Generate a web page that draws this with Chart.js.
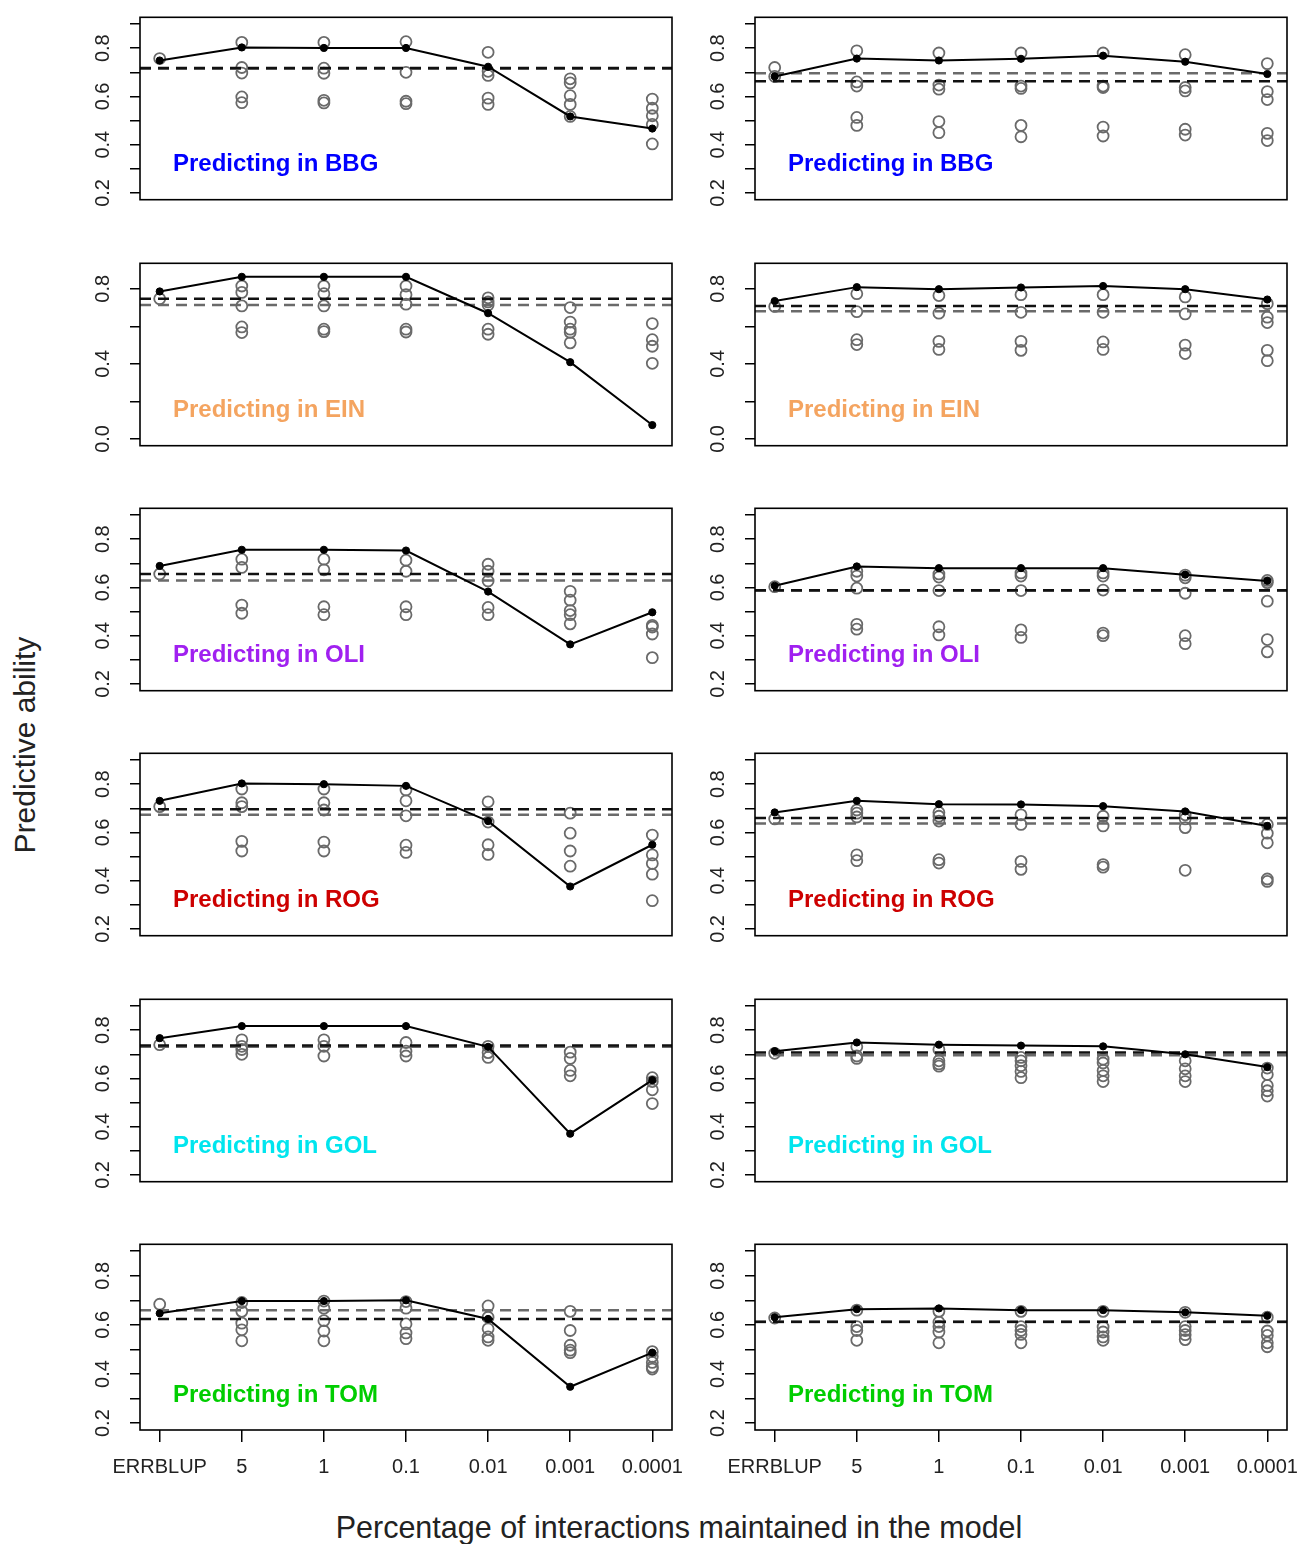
<!DOCTYPE html>
<html>
<head>
<meta charset="utf-8">
<script src="https://cdn.jsdelivr.net/npm/chart.js@4.4.0/dist/chart.umd.min.js"></script>
<style>
  body { margin: 0; background: #fff; width: 1299px; height: 1544px; position: relative; overflow: hidden;
         font-family: 'Liberation Sans', Arial, sans-serif; }
  canvas { position: absolute; }
  .ytitle { position: absolute; left: 25px; top: 745px; transform: translate(-50%, -50%) rotate(-90deg);
            font-size: 30px; color: #222; white-space: nowrap; }
  .xtitle { position: absolute; left: 679px; top: 1527px; transform: translate(-50%, -50%);
            font-size: 30.5px; color: #222; white-space: nowrap; }
</style>
</head>
<body>
<div class="ytitle">Predictive ability</div>
<div class="xtitle">Percentage of interactions maintained in the model</div>
<script>
const xLabels = ['ERRBLUP', '5', '1', '0.1', '0.01', '0.001', '0.0001'];
const populations = ['BBG', 'EIN', 'OLI', 'ROG', 'GOL', 'TOM'];
const popColors = ['#0000FF', '#F4A460', '#A020F0', '#CD0000', '#00E5EE', '#00CD00'];

const yLimNormal = [0.2, 0.9];
const yTicksNormal = [0.2, 0.3, 0.4, 0.5, 0.6, 0.7, 0.8, 0.9];
const yLabelsNormal = [0.2, 0.4, 0.6, 0.8];
const yLimEIN = [0, 0.9];
const yTicksEIN = [0, 0.2, 0.4, 0.6, 0.8];
const yLabelsEIN = [0, 0.4, 0.8];

// left column (A) and right column (B); refs = [black dashed, grey dashed]
const bbgMeanA = [0.749, 0.803, 0.801, 0.801, 0.723, 0.517, 0.467];
const bbgRefA = [0.718, 0.715];
const bbgOthersA = [
    [0.757],
    [0.824, 0.72, 0.697, 0.598, 0.574],
    [0.824, 0.717, 0.696, 0.584, 0.573],
    [0.827, 0.70, 0.58, 0.57],
    [0.783, 0.704, 0.687, 0.593, 0.567],
    [0.673, 0.656, 0.603, 0.567, 0.517],
    [0.589, 0.551, 0.52, 0.484, 0.403]
];
const bbgMeanB = [0.683, 0.757, 0.749, 0.756, 0.769, 0.744, 0.693];
const bbgRefB = [0.663, 0.696];
const bbgOthersB = [
    [0.72, 0.683],
    [0.789, 0.66, 0.643, 0.513, 0.48],
    [0.78, 0.647, 0.63, 0.496, 0.45],
    [0.78, 0.643, 0.633, 0.48, 0.433],
    [0.78, 0.643, 0.637, 0.473, 0.436],
    [0.773, 0.637, 0.623, 0.464, 0.44],
    [0.736, 0.62, 0.587, 0.447, 0.417]
];

const einMeanA = [0.786, 0.864, 0.864, 0.864, 0.67, 0.409, 0.074];
const einRefA = [0.747, 0.714];
const einOthersA = [
    [0.747],
    [0.815, 0.781, 0.709, 0.597, 0.567],
    [0.815, 0.774, 0.709, 0.585, 0.572],
    [0.815, 0.769, 0.718, 0.585, 0.57],
    [0.752, 0.73, 0.714, 0.585, 0.558],
    [0.70, 0.623, 0.585, 0.568, 0.512],
    [0.615, 0.529, 0.494, 0.403]
];
const einMeanB = [0.735, 0.809, 0.798, 0.807, 0.815, 0.798, 0.743];
const einRefB = [0.709, 0.68];
const einOthersB = [
    [0.706],
    [0.774, 0.678, 0.529, 0.503],
    [0.764, 0.67, 0.52, 0.477],
    [0.769, 0.675, 0.52, 0.472],
    [0.769, 0.675, 0.517, 0.477],
    [0.757, 0.666, 0.50, 0.455],
    [0.721, 0.649, 0.62, 0.472, 0.417]
];

const oliMeanA = [0.689, 0.756, 0.756, 0.753, 0.583, 0.364, 0.497];
const oliRefA = [0.656, 0.629];
const oliOthersA = [
    [0.656],
    [0.717, 0.683, 0.527, 0.493],
    [0.717, 0.673, 0.52, 0.487],
    [0.713, 0.667, 0.52, 0.487],
    [0.696, 0.667, 0.627, 0.517, 0.487],
    [0.584, 0.547, 0.504, 0.487, 0.449],
    [0.443, 0.436, 0.407, 0.309]
];
const oliMeanB = [0.607, 0.687, 0.68, 0.68, 0.68, 0.653, 0.627];
const oliRefB = [0.588, 0.586];
const oliOthersB = [
    [0.603],
    [0.667, 0.647, 0.597, 0.447, 0.427],
    [0.656, 0.643, 0.587, 0.437, 0.403],
    [0.66, 0.647, 0.587, 0.424, 0.393],
    [0.66, 0.647, 0.589, 0.411, 0.40],
    [0.651, 0.64, 0.576, 0.40, 0.367],
    [0.629, 0.62, 0.543, 0.384, 0.333]
];

const rogMeanA = [0.731, 0.803, 0.80, 0.793, 0.647, 0.376, 0.549];
const rogRefA = [0.696, 0.673];
const rogOthersA = [
    [0.707],
    [0.78, 0.723, 0.707, 0.563, 0.523],
    [0.78, 0.723, 0.693, 0.56, 0.523],
    [0.776, 0.731, 0.669, 0.547, 0.517],
    [0.727, 0.643, 0.549, 0.509],
    [0.68, 0.597, 0.523, 0.46],
    [0.589, 0.507, 0.471, 0.427, 0.317]
];
const rogMeanB = [0.683, 0.731, 0.717, 0.716, 0.709, 0.687, 0.627];
const rogRefB = [0.66, 0.637];
const rogOthersB = [
    [0.656],
    [0.693, 0.68, 0.664, 0.507, 0.483],
    [0.683, 0.667, 0.647, 0.487, 0.473],
    [0.673, 0.633, 0.48, 0.447],
    [0.667, 0.627, 0.467, 0.456],
    [0.673, 0.656, 0.62, 0.443],
    [0.633, 0.597, 0.557, 0.407, 0.397]
];

const golMeanA = [0.767, 0.817, 0.817, 0.817, 0.731, 0.371, 0.593];
const golRefA = [0.737, 0.731];
const golOthersA = [
    [0.74],
    [0.76, 0.733, 0.72, 0.70],
    [0.76, 0.733, 0.693],
    [0.749, 0.713, 0.693],
    [0.733, 0.707, 0.687],
    [0.709, 0.683, 0.633, 0.611],
    [0.603, 0.587, 0.553, 0.496]
];
const golMeanB = [0.713, 0.749, 0.74, 0.736, 0.733, 0.70, 0.647];
const golRefB = [0.707, 0.696];
const golOthersB = [
    [0.704],
    [0.731, 0.693, 0.683],
    [0.72, 0.673, 0.66, 0.651],
    [0.687, 0.673, 0.653, 0.629, 0.603],
    [0.68, 0.664, 0.633, 0.611, 0.587],
    [0.673, 0.64, 0.611, 0.587],
    [0.643, 0.616, 0.571, 0.549, 0.527]
];

const tomMeanA = [0.647, 0.697, 0.697, 0.70, 0.624, 0.348, 0.487];
const tomRefA = [0.624, 0.66];
const tomOthersA = [
    [0.684],
    [0.691, 0.655, 0.607, 0.58, 0.535],
    [0.697, 0.668, 0.617, 0.575, 0.535],
    [0.695, 0.668, 0.604, 0.567, 0.544],
    [0.677, 0.631, 0.584, 0.551, 0.537],
    [0.655, 0.577, 0.517, 0.497, 0.487],
    [0.491, 0.471, 0.447, 0.428, 0.42]
];
const tomMeanB = [0.631, 0.664, 0.667, 0.66, 0.66, 0.651, 0.637];
const tomRefB = [0.613, 0.612];
const tomOthersB = [
    [0.628],
    [0.66, 0.593, 0.577, 0.537],
    [0.655, 0.611, 0.593, 0.571, 0.527],
    [0.655, 0.593, 0.577, 0.561, 0.527],
    [0.655, 0.591, 0.571, 0.551, 0.537],
    [0.651, 0.593, 0.577, 0.56, 0.54],
    [0.631, 0.575, 0.557, 0.527, 0.511]
];

const panelRows = [
    [[bbgMeanA, bbgOthersA, bbgRefA], [bbgMeanB, bbgOthersB, bbgRefB]],
    [[einMeanA, einOthersA, einRefA], [einMeanB, einOthersB, einRefB]],
    [[oliMeanA, oliOthersA, oliRefA], [oliMeanB, oliOthersB, oliRefB]],
    [[rogMeanA, rogOthersA, rogRefA], [rogMeanB, rogOthersB, rogRefB]],
    [[golMeanA, golOthersA, golRefA], [golMeanB, golOthersB, golRefB]],
    [[tomMeanA, tomOthersA, tomRefA], [tomMeanB, tomOthersB, tomRefB]]
];

const colLeft = [140, 755];
const rowTop = [14, 260, 505, 750, 996, 1241];
const boxW = 532, boxH = 189;
const padR = 24;
const family = "'Liberation Sans', Arial, sans-serif";
const grey = '#6a6a6a';

// R-style 4% axis extension
const extend = (lim) => { const d = (lim[1] - lim[0]) * 0.04; return [lim[0] - d, lim[1] + d]; };
const xLim = extend([0, xLabels.length - 1]);

const framePlugin = {
    id: 'frame',
    afterDatasetsDraw(chart, args, opts) {
        const { ctx, chartArea: a } = chart;
        ctx.save();
        ctx.strokeStyle = '#000';
        ctx.lineWidth = 1.6;
        ctx.strokeRect(a.left, a.top, a.right - a.left, a.bottom - a.top);
        ctx.font = `bold 24px ${family}`;
        ctx.fillStyle = opts.color;
        ctx.textBaseline = 'middle';
        ctx.fillText(opts.text, a.left + 33, a.bottom - 35);
        ctx.restore();
    }
};

function noPad(s) {
    s.paddingTop = 0;
    s.paddingBottom = 0;
    s.paddingLeft = 0;
    s.paddingRight = 0;
}

function makePanel(row, col, mean, others, refs) {
    const ein = populations[row] === 'EIN';
    const yLim = extend(ein ? yLimEIN : yLimNormal);
    const yTicks = ein ? yTicksEIN : yTicksNormal;
    const yLabeled = ein ? yLabelsEIN : yLabelsNormal;
    const bottom = row === rowTop.length - 1;
    const xAxisH = bottom ? 52 : 0;

    const w = 60 + boxW + padR;
    const h = 4 + boxH + xAxisH + 4;
    const canvas = document.createElement('canvas');
    canvas.width = w;
    canvas.height = h;
    canvas.style.left = (colLeft[col] - 60) + 'px';
    canvas.style.top = (rowTop[row] - 4) + 'px';
    canvas.style.width = w + 'px';
    canvas.style.height = h + 'px';
    document.body.appendChild(canvas);

    const hline = (v) => [{ x: xLim[0], y: v }, { x: xLim[1], y: v }];
    const tickGrid = (len) => ({
        display: true, drawOnChartArea: false, drawTicks: true,
        tickLength: len, color: '#000', lineWidth: 1.5
    });

    new Chart(canvas.getContext('2d'), {
        type: 'scatter',
        data: {
            datasets: [
                {
                    data: mean.map((v, i) => ({ x: i, y: v })),
                    showLine: true,
                    borderColor: '#000',
                    borderWidth: 2,
                    pointRadius: 3.6,
                    pointBackgroundColor: '#000',
                    pointBorderColor: '#000',
                    pointBorderWidth: 1
                },
                {
                    data: hline(refs[0]),
                    showLine: true,
                    borderColor: '#111',
                    borderWidth: 2.5,
                    borderDash: [11, 7],
                    pointRadius: 0
                },
                {
                    data: hline(refs[1]),
                    showLine: true,
                    borderColor: grey,
                    borderWidth: 2.5,
                    borderDash: [11, 7],
                    pointRadius: 0
                },
                {
                    data: others.flatMap((vals, i) => vals.map((v) => ({ x: i, y: v }))),
                    showLine: false,
                    pointRadius: 5.5,
                    pointBorderWidth: 1.8,
                    pointBorderColor: grey,
                    pointBackgroundColor: 'rgba(0,0,0,0)'
                }
            ]
        },
        options: {
            responsive: false,
            animation: false,
            devicePixelRatio: 1,
            layout: { padding: { left: 5, top: 4, right: padR, bottom: 4 } },
            plugins: {
                legend: { display: false },
                tooltip: { enabled: false },
                frame: { text: 'Predicting in ' + populations[row], color: popColors[row] }
            },
            scales: {
                x: {
                    type: 'linear',
                    display: bottom,
                    min: xLim[0],
                    max: xLim[1],
                    afterBuildTicks: (s) => { s.ticks = xLabels.map((_, i) => ({ value: i })); },
                    afterFit: (s) => { s.height = xAxisH; noPad(s); },
                    grid: tickGrid(12),
                    border: { display: false },
                    ticks: {
                        autoSkip: false, minRotation: 0, maxRotation: 0, padding: 13,
                        color: '#222', font: { size: 20, family },
                        callback: (v) => xLabels[v]
                    }
                },
                y: {
                    type: 'linear',
                    min: yLim[0],
                    max: yLim[1],
                    afterBuildTicks: (s) => { s.ticks = yTicks.map((v) => ({ value: v })); },
                    afterFit: (s) => { s.width = 55; noPad(s); },
                    grid: tickGrid(10),
                    border: { display: false },
                    ticks: {
                        autoSkip: false, minRotation: 90, maxRotation: 90, crossAlign: 'center', padding: 13,
                        color: '#222', font: { size: 20, family },
                        callback: (v) => yLabeled.some((l) => Math.abs(l - v) < 1e-9) ? v.toFixed(1) : ''
                    }
                }
            }
        },
        plugins: [framePlugin]
    });
}

panelRows.forEach((cols, row) => {
    cols.forEach(([mean, others, refs], col) => makePanel(row, col, mean, others, refs));
});
</script>
</body>
</html>
